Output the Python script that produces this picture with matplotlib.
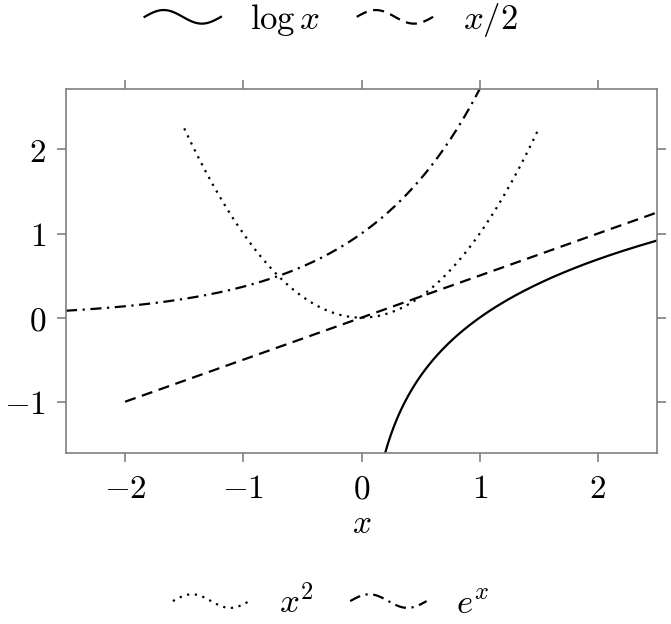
import numpy as np
import matplotlib
matplotlib.use("Agg")
import matplotlib.pyplot as plt
from matplotlib.legend_handler import HandlerLine2D
from matplotlib.lines import Line2D

plt.rcParams['mathtext.fontset'] = 'cm'
plt.rcParams['font.family'] = ['DejaVu Serif']

# data ranges (domains of each function)
log_domain = [0.2, 2.5]
half_domain = [-2.0, 2.5]
sq_domain = [-1.5, 1.5]
exp_domain = [-2.5, 1.0]
xticks = [-2, -1, 0, 1, 2]
yticks = [-1, 0, 1, 2]
labels_top = [r'$\log x$', r'$x/2$']
labels_bottom = [r'$x^2$', r'$e^x$']

n = 200
x_log = np.linspace(*log_domain, n)
x_half = np.linspace(*half_domain, n)
x_sq = np.linspace(*sq_domain, n)
x_exp = np.linspace(*exp_domain, n)

fig = plt.figure(figsize=(6.71, 6.24), dpi=100)
ax = fig.add_axes([66/671, 1-453/624, (657-66)/671, (453-89)/624])

lw = 1.6
fs = 24
l1, = ax.plot(x_log, np.log(x_log), color='black', lw=lw, ls='-')
l2, = ax.plot(x_half, x_half/2, color='black', lw=lw, ls=(0, (5, 3)))
l3, = ax.plot(x_sq, x_sq**2, color='black', lw=lw, ls=(0, (1, 2.5)))
l4, = ax.plot(x_exp, np.exp(x_exp), color='black', lw=lw, ls=(0, (5, 2.5, 1, 2.5)))

ax.set_xlim(-2.5, 2.5)
ax.set_ylim(np.log(0.2), np.e)
ax.set_xticks(xticks)
ax.set_yticks(yticks)
ax.set_xticklabels([rf'${v}$' if v >= 0 else rf'$-{-v}$' for v in xticks])
ax.set_yticklabels([rf'${v}$' if v >= 0 else rf'$-{-v}$' for v in yticks])
ax.tick_params(direction='out', length=6.5, width=1.2, color='#808080',
               labelsize=fs, top=True, right=True, pad=8)
for s in ax.spines.values():
    s.set_color('#808080')
    s.set_linewidth(1.2)
ax.set_xlabel(r'$x$', fontsize=fs, labelpad=2)


class WavyHandler(HandlerLine2D):
    def create_artists(self, legend, orig_handle, xdescent, ydescent,
                       width, height, fontsize, trans):
        t = np.linspace(0, 1, 60)
        xs = -xdescent + t * width
        ys = -ydescent + height / 2 + 0.28 * height * np.sin(2 * np.pi * t)
        line = Line2D(xs, ys)
        self.update_prop(line, orig_handle, legend)
        line.set_transform(trans)
        return [line]


common = dict(ncol=2, frameon=False, fontsize=25, handlelength=2.2,
              handletextpad=0.85, columnspacing=1.05,
              handler_map={Line2D: WavyHandler()})
fig.legend([l1, l2], labels_top, loc='center', bbox_to_anchor=(331/671, 1-20/624), **common)
fig.legend([l3, l4], labels_bottom, loc='center', bbox_to_anchor=(331/671, 1-603/624), **common)

fig.savefig('out.png', dpi=100)
